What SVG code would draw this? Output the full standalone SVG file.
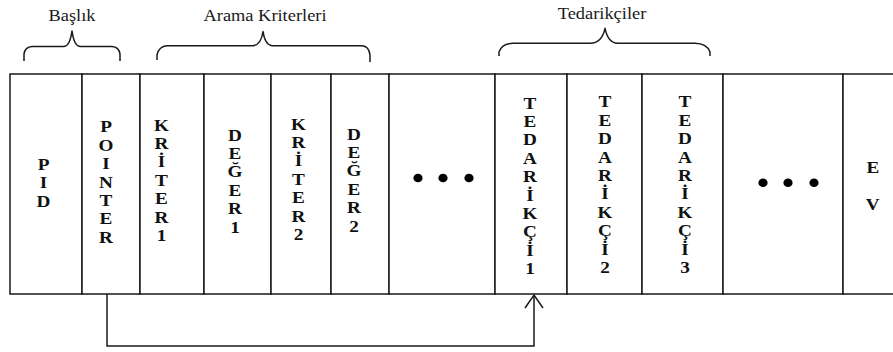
<svg xmlns="http://www.w3.org/2000/svg" width="893" height="352" viewBox="0 0 893 352">
  <style>
    .cell { fill: #ffffff; stroke: #1a1a1a; stroke-width: 1.5; }
    .brace { fill: none; stroke: #1a1a1a; stroke-width: 1.5; stroke-linejoin: round; }
    .title { font-size: 16px; fill: #1a1a1a; text-anchor: middle; }
    .lbl { font-size: 16px; font-weight: bold; fill: #111111; text-anchor: middle; }
    .dot { fill: #000000; }
    .wire { fill: none; stroke: #1a1a1a; stroke-width: 1.5; }
  </style>
  <rect width="893" height="352" fill="#ffffff"/>

  <g font-family="'Liberation Serif', 'DejaVu Serif', serif">
  <!-- group titles with braces -->
  <g id="header-baslik">
    <text class="title" transform="translate(72,21) scale(1.15,1)">Başlık</text>
    <path class="brace" d="M24,61 L24,54 Q25,47 32,46.5 L64,46.5 Q70,46 72,31 Q74,46 80,46.5 L112,46.5 Q119,47 120,54 L120,61"/>
  </g>
  <g id="header-arama">
    <text class="title" transform="translate(265,21) scale(1.15,1)">Arama Kriterleri</text>
    <path class="brace" d="M157,60 L157,55 Q159,46 167,45.7 L253,45.7 Q261,45 263,31.5 Q265,45 272,45.7 L362,45.7 Q369,46 370,55 L370,62"/>
  </g>
  <g id="header-tedarikciler">
    <text class="title" transform="translate(602,19) scale(1.15,1)">Tedarikçiler</text>
    <path class="brace" d="M499,56 L499,52 Q502,43.5 513,43.3 L590,43.3 Q602,43 605,28.3 Q608,43 618,43.3 L695,43.3 Q707,43.5 710,52 L710,56"/>
  </g>

  <!-- record cells -->
  <g id="cell-pid">
    <rect class="cell" x="10" y="74" width="72" height="220"/>
    <text class="lbl" transform="translate(43.5,170) scale(1.2,1)"><tspan x="0">P</tspan><tspan x="0" dy="18.4">I</tspan><tspan x="0" dy="18.4">D</tspan></text>
  </g>
  <g id="cell-pointer">
    <rect class="cell" x="82" y="74" width="58" height="220"/>
    <text class="lbl" transform="translate(106,132.4) scale(1.2,1)"><tspan x="0">P</tspan><tspan x="0" dy="18.4">O</tspan><tspan x="0" dy="18.4">I</tspan><tspan x="0" dy="18.4">N</tspan><tspan x="0" dy="18.4">T</tspan><tspan x="0" dy="18.4">E</tspan><tspan x="0" dy="18.4">R</tspan></text>
  </g>
  <g id="cell-kriter1">
    <rect class="cell" x="140" y="74" width="64" height="220"/>
    <text class="lbl" transform="translate(161.5,130.7) scale(1.2,1)"><tspan x="0">K</tspan><tspan x="0" dy="18.4">R</tspan><tspan x="0" dy="18.4">İ</tspan><tspan x="0" dy="18.4">T</tspan><tspan x="0" dy="18.4">E</tspan><tspan x="0" dy="18.4">R</tspan><tspan x="0" dy="18.4">1</tspan></text>
  </g>
  <g id="cell-deger1">
    <rect class="cell" x="204" y="74" width="67" height="220"/>
    <text class="lbl" transform="translate(235,140.7) scale(1.2,1)"><tspan x="0">D</tspan><tspan x="0" dy="18.4">E</tspan><tspan x="0" dy="18.4">Ğ</tspan><tspan x="0" dy="18.4">E</tspan><tspan x="0" dy="18.4">R</tspan><tspan x="0" dy="18.4">1</tspan></text>
  </g>
  <g id="cell-kriter2">
    <rect class="cell" x="271" y="74" width="60" height="220"/>
    <text class="lbl" transform="translate(298.5,129.7) scale(1.2,1)"><tspan x="0">K</tspan><tspan x="0" dy="18.4">R</tspan><tspan x="0" dy="18.4">İ</tspan><tspan x="0" dy="18.4">T</tspan><tspan x="0" dy="18.4">E</tspan><tspan x="0" dy="18.4">R</tspan><tspan x="0" dy="18.4">2</tspan></text>
  </g>
  <g id="cell-deger2">
    <rect class="cell" x="331" y="74" width="58" height="220"/>
    <text class="lbl" transform="translate(354,139.7) scale(1.2,1)"><tspan x="0">D</tspan><tspan x="0" dy="18.4">E</tspan><tspan x="0" dy="18.4">Ğ</tspan><tspan x="0" dy="18.4">E</tspan><tspan x="0" dy="18.4">R</tspan><tspan x="0" dy="18.4">2</tspan></text>
  </g>
  <g id="cell-more-criteria">
    <rect class="cell" x="389" y="74" width="106" height="220"/>
    <ellipse class="dot" cx="418" cy="178" rx="4.6" ry="4.3"/>
    <ellipse class="dot" cx="443" cy="178" rx="4.6" ry="4.3"/>
    <ellipse class="dot" cx="469" cy="178" rx="4.6" ry="4.3"/>
  </g>
  <g id="cell-tedarikci1">
    <rect class="cell" x="495" y="74" width="72" height="220"/>
    <text class="lbl" transform="translate(530,108.7) scale(1.2,1)"><tspan x="0">T</tspan><tspan x="0" dy="18.4">E</tspan><tspan x="0" dy="18.4">D</tspan><tspan x="0" dy="18.4">A</tspan><tspan x="0" dy="18.4">R</tspan><tspan x="0" dy="18.4">İ</tspan><tspan x="0" dy="18.4">K</tspan><tspan x="0" dy="18.4">Ç</tspan><tspan x="0" dy="18.4">İ</tspan><tspan x="0" dy="18.4">1</tspan></text>
  </g>
  <g id="cell-tedarikci2">
    <rect class="cell" x="567" y="74" width="75" height="220"/>
    <text class="lbl" transform="translate(605,107.4) scale(1.2,1)"><tspan x="0">T</tspan><tspan x="0" dy="18.4">E</tspan><tspan x="0" dy="18.4">D</tspan><tspan x="0" dy="18.4">A</tspan><tspan x="0" dy="18.4">R</tspan><tspan x="0" dy="18.4">İ</tspan><tspan x="0" dy="18.4">K</tspan><tspan x="0" dy="18.4">Ç</tspan><tspan x="0" dy="18.4">İ</tspan><tspan x="0" dy="18.4">2</tspan></text>
  </g>
  <g id="cell-tedarikci3">
    <rect class="cell" x="642" y="74" width="81" height="220"/>
    <text class="lbl" transform="translate(685,107.4) scale(1.2,1)"><tspan x="0">T</tspan><tspan x="0" dy="18.4">E</tspan><tspan x="0" dy="18.4">D</tspan><tspan x="0" dy="18.4">A</tspan><tspan x="0" dy="18.4">R</tspan><tspan x="0" dy="18.4">İ</tspan><tspan x="0" dy="18.4">K</tspan><tspan x="0" dy="18.4">Ç</tspan><tspan x="0" dy="18.4">İ</tspan><tspan x="0" dy="18.4">3</tspan></text>
  </g>
  <g id="cell-more-suppliers">
    <rect class="cell" x="723" y="74" width="120" height="220"/>
    <ellipse class="dot" cx="763" cy="182.7" rx="4.6" ry="4.3"/>
    <ellipse class="dot" cx="788" cy="182.7" rx="4.6" ry="4.3"/>
    <ellipse class="dot" cx="814" cy="182.7" rx="4.6" ry="4.3"/>
  </g>
  <g id="cell-ev">
    <rect class="cell" x="843" y="74" width="60" height="220"/>
    <text class="lbl" transform="translate(872.8,173.3) scale(1.2,1)"><tspan x="0">E</tspan><tspan x="0" dy="36.7">V</tspan></text>
  </g>
  </g>

  <!-- pointer link from POINTER to the first supplier -->
  <g id="connectors">
    <path class="wire" d="M107,294 V346 H534 V295"/>
    <path class="wire" d="M525,308 L534,295 L543,308"/>
  </g>
</svg>
